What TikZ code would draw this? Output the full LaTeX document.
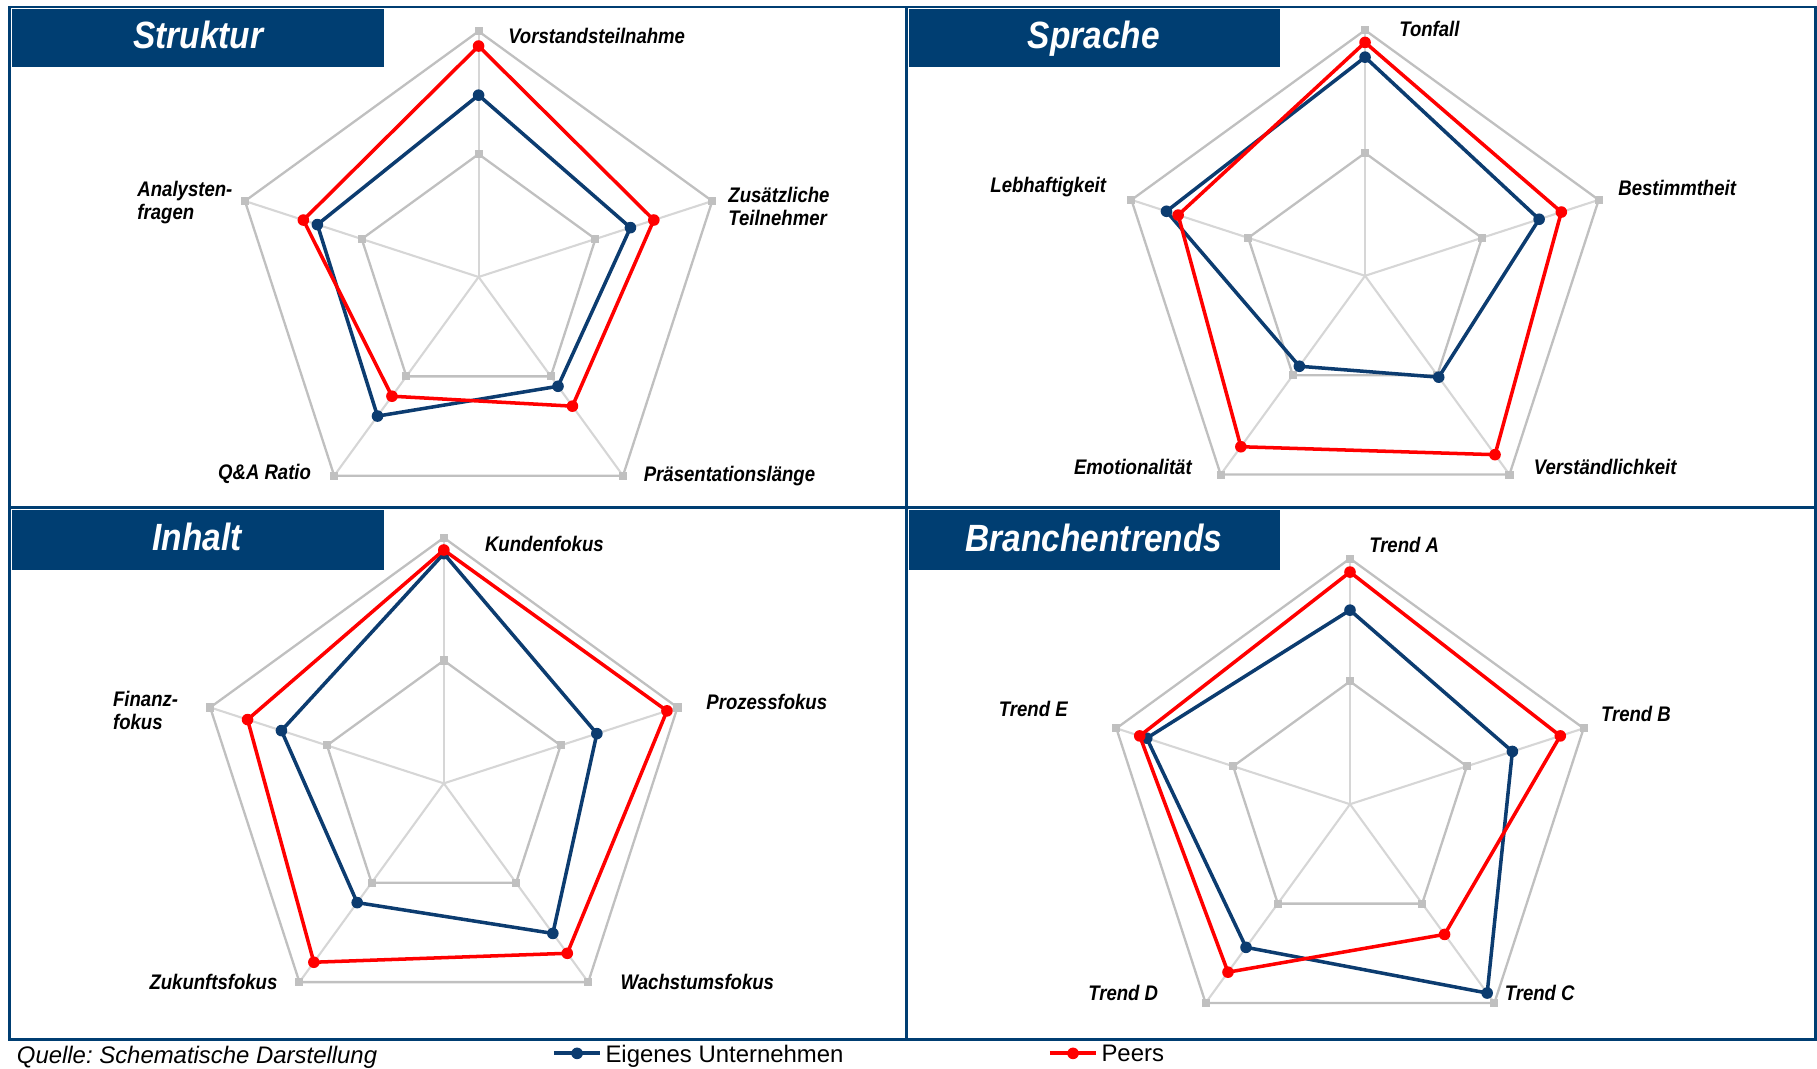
\documentclass[tikz,border=0pt]{standalone}
\usepackage{fontspec}
\setmainfont{Liberation Sans}
\newfontfamily\chartfont{Liberation Sans}[FakeStretch=0.88]
\usetikzlibrary{positioning}
\frenchspacing
\definecolor{colNavy}{RGB}{0,62,114}
\definecolor{colOwn}{RGB}{12,60,112}
\definecolor{colPeer}{RGB}{255,0,0}
\definecolor{colGrid}{RGB}{192,192,192}
\definecolor{colSpoke}{RGB}{214,214,214}

\begin{document}
\begin{tikzpicture}[x=0.011588cm, y=-0.011588cm,
    title/.style={text=white, inner sep=0, anchor=base, font=\chartfont\bfseries\itshape\fontsize{10.8}{12}\selectfont},
    axislabel/.style={inner sep=0, align=left, font=\chartfont\bfseries\itshape\fontsize{6}{6.6}\selectfont},
    ring/.style={colGrid, line width=0.66pt, line join=round},
    ownline/.style={colOwn, line width=1pt, line join=round},
    peerline/.style={colPeer, line width=1pt, line join=round},
    legend/.style={inner sep=0, font=\fontsize{6.8}{8}\selectfont}]
    \useasboundingbox (0,0) rectangle (1568,922);

    % panel frame
    \draw[colNavy, line width=0.8pt] (8,6) rectangle (1567,897);
    \draw[colNavy, line width=0.8pt] (8,438) -- (1567,438);
    \draw[colNavy, line width=0.8pt] (782,6) -- (782,897);

    % title boxes
    \fill[colNavy] (10,8) rectangle (331,58);
    \node[title] (tStruktur) at (171,42) {Struktur};
    \fill[colNavy] (784,8) rectangle (1105,58);
    \node[title] (tSprache) at (944,42) {Sprache};
    \fill[colNavy] (10,440) rectangle (331,492);
    \node[title] (tInhalt) at (170,475) {Inhalt};
    \fill[colNavy] (784,440) rectangle (1105,492);
    \node[title] (tTrends) at (944,476) {Branchentrends};

    % radar charts: centre x / centre y / name / peers / own
    \foreach \cx/\cy/\nm/\peer/\own in {
        413/239/st/{0.94,0.75,0.65,0.60,0.75}/{0.74,0.65,0.55,0.70,0.69},
        1178/238/sp/{0.95,0.84,0.90,0.86,0.80}/{0.89,0.745,0.51,0.455,0.85},
        383/676/in/{0.95,0.955,0.855,0.90,0.84}/{0.935,0.655,0.755,0.60,0.695},
        1165/694/br/{0.945,0.90,0.655,0.845,0.90}/{0.79,0.695,0.95,0.72,0.87}} {
        \coordinate (\nm-c) at (\cx,\cy);
        \foreach \k in {0,...,4} {
            \coordinate (\nm-o\k) at ({\cx+212*cos(90-72*\k)}, {\cy-212*sin(90-72*\k)});
            \coordinate (\nm-i\k) at ({\cx+106*cos(90-72*\k)}, {\cy-106*sin(90-72*\k)});
            \draw[colSpoke, line width=0.6pt] (\nm-c) -- (\nm-o\k);
        }
        \draw[ring] (\nm-o0) -- (\nm-o1) -- (\nm-o2) -- (\nm-o3) -- (\nm-o4) -- cycle;
        \draw[ring] (\nm-i0) -- (\nm-i1) -- (\nm-i2) -- (\nm-i3) -- (\nm-i4) -- cycle;
        \foreach \k in {0,...,4} {
            \fill[colGrid] (\nm-o\k) +(-3.5,-3.5) rectangle +(3.5,3.5);
            \fill[colGrid] (\nm-i\k) +(-3.5,-3.5) rectangle +(3.5,3.5);
        }
        % own company
        \foreach \v [count=\k from 0] in \own {
            \coordinate (\nm-b\k) at ({\cx+\v*212*cos(90-72*\k)}, {\cy-\v*212*sin(90-72*\k)});
        }
        \draw[ownline] (\nm-b0) -- (\nm-b1) -- (\nm-b2) -- (\nm-b3) -- (\nm-b4) -- cycle;
        \foreach \k in {0,...,4} \fill[colOwn] (\nm-b\k) circle (1.65pt);
        % peers
        \foreach \v [count=\k from 0] in \peer {
            \coordinate (\nm-p\k) at ({\cx+\v*212*cos(90-72*\k)}, {\cy-\v*212*sin(90-72*\k)});
        }
        \draw[peerline] (\nm-p0) -- (\nm-p1) -- (\nm-p2) -- (\nm-p3) -- (\nm-p4) -- cycle;
        \foreach \k in {0,...,4} \fill[colPeer] (\nm-p\k) circle (1.65pt);
    }

    % axis labels
    \node[axislabel, anchor=west] (lVorstand) at (438,31) {Vorstandsteilnahme};
    \node[axislabel, anchor=west] (lZusatz) at (628,178) {Zusätzliche\\Teilnehmer};
    \node[axislabel, anchor=west] (lPraes) at (555,411) {Präsentationslänge};
    \node[axislabel, anchor=east] (lQA) at (269,409) {Q\&A Ratio};
    \node[axislabel, anchor=west] (lAnalyst) at (118,175) {Analysten-\\fragen};

    \node[axislabel, anchor=west] (lTon) at (1207,25) {Tonfall};
    \node[axislabel, anchor=west] (lBest) at (1396,162) {Bestimmtheit};
    \node[axislabel, anchor=west] (lVerst) at (1323,403) {Verständlichkeit};
    \node[axislabel, anchor=east] (lEmo) at (1029,403) {Emotionalität};
    \node[axislabel, anchor=east] (lLeb) at (955,161) {Lebhaftigkeit};

    \node[axislabel, anchor=west] (lKunde) at (418,469) {Kundenfokus};
    \node[axislabel, anchor=west] (lProzess) at (609,606) {Prozessfokus};
    \node[axislabel, anchor=west] (lWachs) at (535,847) {Wachstumsfokus};
    \node[axislabel, anchor=east] (lZukunft) at (240,847) {Zukunftsfokus};
    \node[axislabel, anchor=west] (lFinanz) at (97,613) {Finanz-\\fokus};

    \node[axislabel, anchor=west] (lTrendA) at (1181,470) {Trend A};
    \node[axislabel, anchor=west] (lTrendB) at (1381,616) {Trend B};
    \node[axislabel, anchor=west] (lTrendC) at (1298,857) {Trend C};
    \node[axislabel, anchor=east] (lTrendD) at (1000,857) {Trend D};
    \node[axislabel, anchor=east] (lTrendE) at (922,612) {Trend E};

    % source and legend
    \node[legend, anchor=west, font=\fontsize{6.8}{8}\selectfont\itshape] (source) at (14,912) {Quelle: Schematische Darstellung};
    \coordinate (ownA) at (478,909);
    \coordinate (ownB) at (518,909);
    \draw[ownline, line width=1.2pt] (ownA) -- (ownB);
    \node[circle, fill=colOwn, inner sep=0, minimum size=3.3pt] (ownDot) at (498,909) {};
    \node[legend, anchor=west, right=1.3pt of ownB, yshift=-0.9pt] (ownText) {Eigenes Unternehmen};
    \coordinate (peerA) at (906,909);
    \coordinate (peerB) at (946,909);
    \draw[peerline, line width=1.2pt] (peerA) -- (peerB);
    \node[circle, fill=colPeer, inner sep=0, minimum size=3.3pt] (peerDot) at (926,909) {};
    \node[legend, anchor=west, right=1.3pt of peerB] (peerText) {Peers};
\end{tikzpicture}
\end{document}
